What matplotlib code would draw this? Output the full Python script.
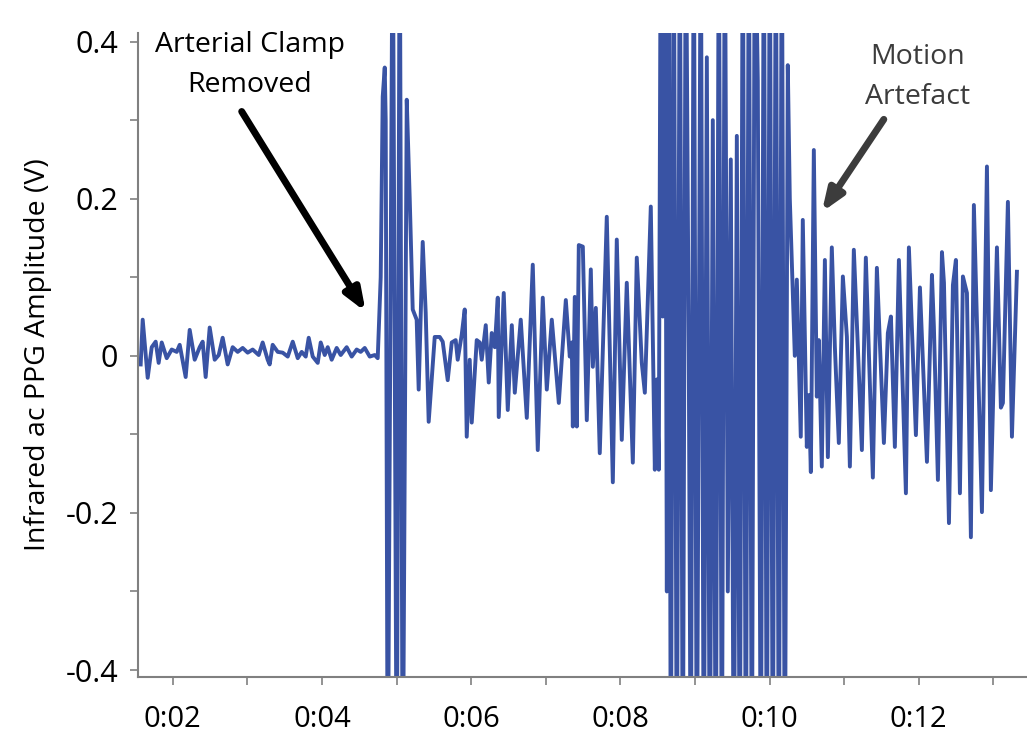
import numpy as np
import matplotlib
matplotlib.use("Agg")
import matplotlib.pyplot as plt
from matplotlib.ticker import FuncFormatter, MultipleLocator

plt.rcParams['font.family'] = ['Open Sans', 'DejaVu Sans']

# time (s) of each peak / trough
t_quiet = [1.571, 1.598, 1.665, 1.719, 1.772, 1.812, 1.853, 1.920, 1.987, 2.054,
           2.094, 2.174, 2.228, 2.295, 2.362, 2.402, 2.442, 2.496, 2.563, 2.617,
           2.670, 2.737, 2.804, 2.871, 2.938, 3.005, 3.072, 3.153, 3.206, 3.273,
           3.300, 3.340, 3.408, 3.475, 3.542, 3.609, 3.676, 3.729, 3.783, 3.823,
           3.877, 3.944, 3.984, 4.038, 4.078, 4.131, 4.198, 4.252, 4.332, 4.399,
           4.466, 4.520, 4.574, 4.641, 4.708, 4.748]
v_quiet = [-0.011, 0.046, -0.028, 0.011, 0.018, -0.009, 0.017, -0.003, 0.008, 0.005,
           0.014, -0.027, 0.033, -0.005, 0.011, 0.018, -0.027, 0.036, -0.005, 0.001,
           0.023, -0.011, 0.011, 0.005, 0.010, 0.004, 0.008, 0.001, 0.017, -0.005,
           -0.011, 0.014, 0.005, 0.004, -0.001, 0.018, -0.003, 0.005, -0.001, 0.023,
           -0.001, -0.009, 0.017, 0.001, 0.011, -0.005, 0.010, 0.001, 0.011, -0.001,
           0.008, 0.005, 0.010, -0.001, 0.001, -0.003]

t_release = [4.788, 4.815, 4.842, 4.855, 4.882, 4.949, 5.003, 5.043, 5.083, 5.137,
             5.177, 5.217, 5.270, 5.297, 5.351, 5.391, 5.431, 5.512, 5.579, 5.619,
             5.686, 5.740, 5.793, 5.820, 5.874, 5.914, 5.941, 5.981, 6.008, 6.075,
             6.115, 6.142, 6.196, 6.236, 6.276, 6.317, 6.357, 6.370, 6.437, 6.491,
             6.545, 6.585, 6.665, 6.746, 6.826, 6.893, 6.960, 7.014, 7.081, 7.175,
             7.269, 7.322, 7.349, 7.363, 7.389, 7.416, 7.443, 7.497, 7.550, 7.604,
             7.631, 7.671, 7.724, 7.818, 7.899, 7.952, 8.019, 8.086, 8.167, 8.220,
             8.287, 8.328, 8.408, 8.462, 8.489, 8.515]
v_release = [0.100, 0.330, 0.367, 0.300, -0.600, 0.600, -0.600, 0.600, -0.600, 0.326,
             0.200, 0.059, 0.046, -0.043, 0.145, 0.055, -0.084, 0.024, 0.024, 0.018,
             -0.031, 0.017, 0.020, -0.005, 0.027, 0.059, -0.103, -0.005, -0.085, 0.020,
             0.017, -0.005, 0.039, -0.034, 0.029, 0.011, 0.074, -0.078, 0.080, -0.069,
             0.039, -0.047, 0.046, -0.079, 0.116, -0.120, 0.074, -0.043, 0.046, -0.060,
             0.071, -0.001, 0.017, -0.090, 0.075, -0.090, 0.141, 0.139, -0.082, 0.110,
             -0.014, 0.061, -0.124, 0.177, -0.161, 0.148, -0.107, 0.093, -0.136, 0.125,
             -0.009, -0.047, 0.190, -0.145, -0.030, -0.145]

t_saturated = [8.542, 8.569, 8.596, 8.623, 8.649, 8.676, 8.716, 8.757, 8.797, 8.837,
               8.877, 8.917, 8.944, 8.984, 9.025, 9.078, 9.118, 9.159, 9.199, 9.239,
               9.279, 9.320, 9.360, 9.400, 9.440, 9.480, 9.521, 9.561, 9.601, 9.641,
               9.682, 9.722, 9.762, 9.802, 9.842, 9.883, 9.923, 9.963, 10.003, 10.043,
               10.084, 10.124, 10.164, 10.204, 10.244]
v_saturated = [0.60, 0.05, 0.60, -0.30, 0.60, -0.60, 0.60, -0.60, 0.60, -0.60,
               0.60, 0.00, -0.60, 0.60, -0.60, 0.60, -0.60, 0.38, -0.60, 0.30,
               -0.60, 0.60, -0.60, 0.60, -0.30, 0.25, -0.60, 0.28, -0.60, 0.60,
               -0.60, 0.60, -0.60, 0.60, 0.35, -0.60, 0.60, -0.60, 0.60, -0.60,
               0.60, -0.60, 0.60, -0.60, 0.370]

t_motion = [10.271, 10.298, 10.338, 10.365, 10.418, 10.445, 10.499, 10.526, 10.553, 10.593,
            10.633, 10.660, 10.700, 10.741, 10.781, 10.834, 10.875, 10.928, 10.982, 11.036,
            11.076, 11.129, 11.183, 11.237, 11.290, 11.384, 11.438, 11.532, 11.585, 11.626,
            11.679, 11.733, 11.827, 11.867, 11.961, 12.015, 12.109, 12.176, 12.202, 12.256,
            12.310, 12.337, 12.404, 12.457, 12.497, 12.551, 12.591, 12.645, 12.698, 12.738,
            12.846, 12.913, 12.966, 13.047, 13.100, 13.127, 13.194, 13.248, 13.315]
v_motion = [0.200, 0.120, 0.000, 0.097, -0.103, 0.173, -0.116, -0.050, -0.148, 0.262,
            -0.052, 0.020, -0.141, 0.122, -0.129, 0.138, 0.011, -0.111, 0.101, 0.024,
            -0.141, 0.135, 0.011, -0.120, 0.125, -0.155, 0.112, -0.111, 0.029, 0.050,
            -0.116, 0.122, -0.175, 0.138, -0.101, 0.087, -0.135, 0.103, 0.037, -0.158,
            0.132, 0.093, -0.213, 0.090, 0.122, -0.175, 0.101, 0.080, -0.231, 0.192,
            -0.199, 0.241, -0.171, 0.138, -0.066, -0.060, 0.196, -0.103, 0.107]

t = np.array(t_quiet + t_release + t_saturated + t_motion)
v = np.array(v_quiet + v_release + v_saturated + v_motion)

fig = plt.figure(figsize=(10.27, 7.49), dpi=100)
ax = fig.add_axes([0.134, 0.096, 0.866, 0.860])

ax.plot(t, v, color='#3953a4', lw=2.8, solid_joinstyle='round')

ax.set_xlim(1.53, 13.45)
ax.set_ylim(-0.409, 0.411)

for s in ['top', 'right']:
    ax.spines[s].set_visible(False)
for s in ['left', 'bottom']:
    ax.spines[s].set_color('#808080')
    ax.spines[s].set_linewidth(1.5)

ax.xaxis.set_major_locator(MultipleLocator(2))
ax.xaxis.set_minor_locator(MultipleLocator(1))
ax.xaxis.set_major_formatter(FuncFormatter(lambda x, p: "0:%02d" % int(round(x))))
ax.yaxis.set_major_locator(MultipleLocator(0.2))
ax.yaxis.set_minor_locator(MultipleLocator(0.1))
ax.yaxis.set_major_formatter(FuncFormatter(lambda y, p: "0" if abs(y) < 1e-9 else "%.1f" % y))

ax.tick_params(axis='both', which='both', color='#808080', width=1.2, direction='out')
ax.tick_params(axis='both', which='major', length=6, labelsize=21, colors='#808080', labelcolor='black')
ax.tick_params(axis='y', which='major', labelsize=22)
ax.tick_params(axis='both', which='minor', length=6)
ax.tick_params(axis='x', which='major', pad=14)
ax.tick_params(axis='y', which='major', pad=8)

ax.set_ylabel("Infrared ac PPG Amplitude (V)", fontsize=20.5, labelpad=10)

ax.annotate("", xy=(4.587, 0.056), xytext=(2.925, 0.311),
            arrowprops=dict(arrowstyle='-|>,head_length=1.3,head_width=0.5',
                            color='black', lw=5, shrinkA=0, shrinkB=0))
ax.text(3.032, 0.370, "Arterial Clamp\nRemoved", ha='center', va='center',
        fontsize=20.5, linespacing=1.55, color='black')

ax.annotate("", xy=(10.70, 0.183), xytext=(11.531, 0.301),
            arrowprops=dict(arrowstyle='-|>,head_length=1.3,head_width=0.5',
                            color='#3c3c3c', lw=5, shrinkA=0, shrinkB=0))
ax.text(11.987, 0.355, "Motion\nArtefact", ha='center', va='center',
        fontsize=20.5, linespacing=1.55, color='#3c3c3c')

fig.savefig("out.png", dpi=100)
